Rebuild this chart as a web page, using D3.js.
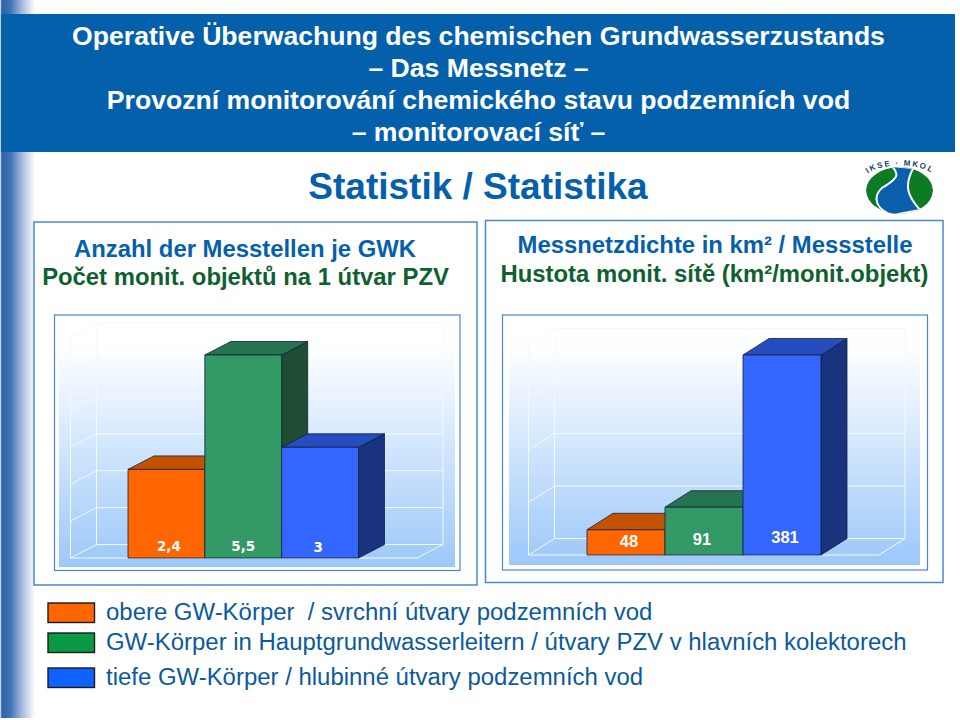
<!DOCTYPE html>
<html>
<head>
<meta charset="utf-8">
<script src="https://cdn.jsdelivr.net/npm/d3@7"></script>
<style>
  body { margin: 0; background: #fff; }
  svg { font-family: "Liberation Sans", Arial, sans-serif; }
</style>
</head>
<body>
<div id="holder"></div>
<script>
// data
const categories = ["obere", "hgwl", "tiefe"];
const countValues = [2.4, 5.5, 3];
const countLabels = ["2,4", "5,5", "3"];
const densityValues = [48, 91, 381];
const densityLabels = ["48", "91", "381"];
const countTicks = [0, 1, 2, 3, 4, 5, 6];
const densityTicks = [0, 100, 200, 300, 400];
const titleLines = [
    "Operative Überwachung des chemischen Grundwasserzustands",
    "– Das Messnetz –",
    "Provozní monitorování chemického stavu podzemních vod",
    "– monitorovací síť –"
];
const legendLabels = [
    "obere GW-Körper  / svrchní útvary podzemních vod",
    "GW-Körper in Hauptgrundwasserleitern / útvary PZV v hlavních kolektorech",
    "tiefe GW-Körper / hlubinné útvary podzemních vod"
];

const w = 960;
const h = 720;
const blue = "#0560ab";
const green = "#0f6030";
const frameColor = "#4a86d8";

const barColors = {
    obere: {front: "#ff6600", top: "#c25100", side: "#8f3c00"},
    hgwl: {front: "#339966", top: "#267350", side: "#1e4d33"},
    tiefe: {front: "#3366ff", top: "#264dc0", side: "#19337f"}
};
const legendColors = ["#ff6600", "#0a9a46", "#0f62fe"];

const svg = d3.select("#holder").append("svg")
    .attr("width", w)
    .attr("height", h)
    .style("display", "block");

const defs = svg.append("defs");

// left stripe of the slide
const stripe = defs.append("linearGradient").attr("id", "stripe");
[[0, "#ffffff"], [0.05, "#2a62ab"], [0.3, "#3f73b5"], [0.6, "#a0b5d8"], [1, "#ffffff"]]
    .forEach(s => stripe.append("stop").attr("offset", s[0]).attr("stop-color", s[1]));

const wall = defs.append("linearGradient")
    .attr("id", "wall")
    .attr("x1", 0).attr("x2", 0).attr("y1", 0).attr("y2", 1);
[[0, "#ffffff"], [0.13, "#fdfeff"], [1, "#9cc8fa"]]
    .forEach(s => wall.append("stop").attr("offset", s[0]).attr("stop-color", s[1]));

svg.append("rect").attr("x", 0).attr("y", 0).attr("width", 35).attr("height", 718).attr("fill", "url(#stripe)");

// header
svg.append("rect")
    .attr("x", 1).attr("y", 14)
    .attr("width", 954).attr("height", 138)
    .attr("fill", blue);

svg.append("g")
    .selectAll("text")
    .data(titleLines)
    .enter()
    .append("text")
    .attr("x", 478.5)
    .attr("y", (d, i) => 45 + i * 32)
    .attr("text-anchor", "middle")
    .attr("font-size", 26.6)
    .attr("font-weight", "bold")
    .attr("fill", "#fff")
    .text(d => d);

svg.append("text")
    .attr("x", 478)
    .attr("y", 199)
    .attr("text-anchor", "middle")
    .attr("font-size", 37)
    .attr("font-weight", "bold")
    .attr("fill", blue)
    .text("Statistik / Statistika");

function subtitle(x, y, color, str) {
    svg.append("text")
        .attr("x", x).attr("y", y)
        .attr("text-anchor", "middle")
        .attr("font-size", 23.85)
        .attr("font-weight", "bold")
        .attr("fill", color)
        .text(str);
}
subtitle(245, 257, blue, "Anzahl der Messtellen je GWK");
subtitle(245.5, 285, green, "Počet monit. objektů na 1 útvar PZV");
subtitle(715, 253, blue, "Messnetzdichte in km² / Messstelle");
subtitle(714.5, 282, green, "Hustota monit. sítě (km²/monit.objekt)");

// one 3d column panel
function drawPanel(p) {
    const g = svg.append("g");

    g.append("rect")
        .attr("x", p.outer[0]).attr("y", p.outer[1])
        .attr("width", p.outer[2] - p.outer[0]).attr("height", p.outer[3] - p.outer[1])
        .attr("fill", "none").attr("stroke", frameColor).attr("stroke-width", 1.5);
    g.append("rect")
        .attr("x", p.frame[0]).attr("y", p.frame[1])
        .attr("width", p.frame[2] - p.frame[0]).attr("height", p.frame[3] - p.frame[1])
        .attr("fill", "#fff").attr("stroke", frameColor).attr("stroke-width", 1.2);
    g.append("rect")
        .attr("x", p.fill[0]).attr("y", p.fill[1])
        .attr("width", p.fill[2] - p.fill[0]).attr("height", p.fill[3] - p.fill[1])
        .attr("fill", "url(#wall)");

    const x = d3.scaleBand().domain(categories).range(p.barRange);
    const y = d3.scaleLinear().domain([0, p.domainMax]).range([p.base, p.top]);
    const dx = p.depth[0];
    const dy = p.depth[1];

    // back wall and side wall grid
    const grid = g.append("g")
        .attr("fill", "none")
        .attr("stroke", "#f4f9ff")
        .attr("stroke-width", 1);
    grid.selectAll("path.tick")
        .data(p.ticks)
        .enter()
        .append("path")
        .attr("class", "tick")
        .attr("d", d => `M${p.wall[0]},${y(d)} L${p.wall[0] + dx},${y(d) + dy} L${p.wall[1]},${y(d) + dy}`);
    const topY = y(p.ticks[p.ticks.length - 1]);
    grid.append("path").attr("d", `M${p.wall[0]},${p.base} V${topY}`);
    grid.append("path").attr("d", `M${p.wall[0] + dx},${p.base + dy} V${topY + dy}`);
    grid.append("path").attr("d", `M${p.wall[1]},${p.base + dy} V${topY + dy}`);
    grid.append("path").attr("d", `M${p.wall[0]},${p.base} H${p.wall[1] - dx} L${p.wall[1]},${p.base + dy}`);

    // columns
    const bars = g.selectAll("g.bar")
        .data(categories.map((c, i) => ({c: c, v: p.values[i], label: p.labels[i], nudge: p.nudges[i]})))
        .enter()
        .append("g")
        .attr("class", "bar")
        .attr("stroke", "#14203a")
        .attr("stroke-width", 0.8)
        .attr("stroke-linejoin", "round");

    bars.append("path")
        .attr("fill", d => barColors[d.c].side)
        .attr("d", d => {
            const r = x(d.c) + x.bandwidth();
            return `M${r},${p.base} L${r + dx},${p.base + dy} V${y(d.v) + dy} L${r},${y(d.v)} Z`;
        });
    bars.append("path")
        .attr("fill", d => barColors[d.c].top)
        .attr("d", d => {
            const l = x(d.c);
            const r = l + x.bandwidth();
            return `M${l},${y(d.v)} L${l + dx},${y(d.v) + dy} H${r + dx} L${r},${y(d.v)} Z`;
        });
    bars.append("rect")
        .attr("x", d => x(d.c))
        .attr("y", d => y(d.v))
        .attr("width", x.bandwidth())
        .attr("height", d => p.base - y(d.v))
        .attr("fill", d => barColors[d.c].front);

    bars.append("text")
        .attr("x", d => x(d.c) + x.bandwidth() / 2 + d.nudge[0])
        .attr("y", d => p.base - d.nudge[1])
        .attr("text-anchor", "middle")
        .attr("stroke", "none")
        .attr("fill", "#fff")
        .style("font-family", p.labelFont)
        .attr("font-size", p.labelSize)
        .attr("font-weight", "bold")
        .text(d => d.label);
}

drawPanel({
    outer: [34, 222, 477, 585],
    frame: [54.5, 315, 460, 570.5],
    fill: [59, 318, 455, 567],
    wall: [70.5, 443],
    barRange: [128, 358.5],
    depth: [26, -13.5],
    base: 558,
    top: 355,
    domainMax: 5.5,
    ticks: countTicks,
    values: countValues,
    labels: countLabels,
    nudges: [[2.5, 7], [0, 7], [-2, 6]],
    labelFont: "DejaVu Sans",
    labelSize: 13.5
});

drawPanel({
    outer: [485.5, 220.5, 943, 582.5],
    frame: [502.5, 315, 927.5, 570],
    fill: [509, 318, 920, 565],
    wall: [528.5, 905],
    barRange: [587, 821],
    depth: [26, -16.5],
    base: 555,
    top: 355,
    domainMax: 381,
    ticks: densityTicks,
    values: densityValues,
    labels: densityLabels,
    nudges: [[3, 8], [-2, 10], [3, 12]],
    labelFont: "Liberation Sans",
    labelSize: 16.5
});

// legend
const legendBoxY = [603, 633, 668];
const legendTextY = [620, 650, 685];
const legend = svg.append("g");
legend.selectAll("rect")
    .data(legendColors)
    .enter()
    .append("rect")
    .attr("x", 48).attr("y", (d, i) => legendBoxY[i])
    .attr("width", 46.5).attr("height", 19.5)
    .attr("fill", d => d)
    .attr("stroke", "#1a1a1a")
    .attr("stroke-width", 1.4);
legend.selectAll("text")
    .data(legendLabels)
    .enter()
    .append("text")
    .attr("x", 106)
    .attr("y", (d, i) => legendTextY[i])
    .attr("font-size", 23.95)
    .attr("fill", "#0a5a9c")
    .style("white-space", "pre")
    .text(d => d);

// IKSE logo
const logo = svg.append("g");
defs.append("clipPath").attr("id", "logoClip")
    .append("ellipse").attr("cx", 899.5).attr("cy", 190.5).attr("rx", 33.5).attr("ry", 23.5);
const logoInner = logo.append("g").attr("clip-path", "url(#logoClip)");
logoInner.append("ellipse").attr("cx", 899.5).attr("cy", 190.5).attr("rx", 33.5).attr("ry", 23.5).attr("fill", "#0d7a25");
logoInner.append("path")
    .attr("d", "M891.7,166 L913.3,168 C903.3,186.7 908.3,196.7 920,210 L893.3,215 C871.3,208.3 873,191.7 886.7,185 C896.7,178.3 900,175 891.7,166 Z")
    .attr("fill", "#0b60ab")
    .attr("stroke", "#fff")
    .attr("stroke-width", 2);
defs.append("path").attr("id", "logoArc").attr("d", "M864,178 C872,161.5 928,161.5 936,178");
logo.append("text")
    .attr("font-size", 8)
    .attr("font-weight", "bold")
    .attr("letter-spacing", 1.6)
    .attr("fill", "#143f6e")
    .append("textPath")
    .attr("href", "#logoArc")
    .attr("startOffset", "50%")
    .attr("text-anchor", "middle")
    .text("IKSE · MKOL");
</script>
</body>
</html>
